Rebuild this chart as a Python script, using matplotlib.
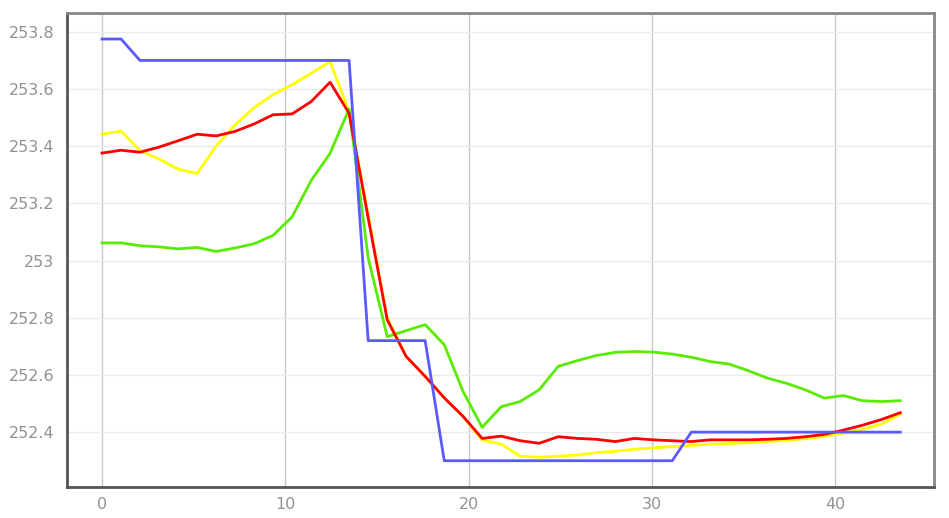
import matplotlib
matplotlib.use("Agg")
import matplotlib.pyplot as plt
from matplotlib.ticker import FuncFormatter

# sample times (43 samples)
t = [0.00, 1.04, 2.07, 3.11, 4.15, 5.19, 6.22, 7.26, 8.30, 9.33,
     10.37, 11.41, 12.44, 13.48, 14.52, 15.56, 16.59, 17.63, 18.67, 19.70,
     20.74, 21.78, 22.81, 23.85, 24.89, 25.93, 26.96, 28.00, 29.04, 30.07,
     31.11, 32.15, 33.18, 34.22, 35.26, 36.30, 37.33, 38.37, 39.41, 40.44,
     41.48, 42.52, 43.55]

blue = [253.775, 253.775] + [253.70] * 12 + [252.72] * 4 + [252.30] * 13 + [252.40] * 12

yellow = [253.442, 253.453, 253.385, 253.355, 253.32, 253.305, 253.40, 253.475, 253.535, 253.58,
          253.615, 253.655, 253.696, 253.52, 253.16, 252.80, 252.665, 252.595, 252.52, 252.455,
          252.372, 252.358, 252.316, 252.312, 252.316, 252.32, 252.328, 252.333, 252.34, 252.345,
          252.349, 252.353, 252.358, 252.36, 252.363, 252.367, 252.371, 252.377, 252.385, 252.396,
          252.41, 252.428, 252.463]

red = [253.376, 253.386, 253.379, 253.397, 253.419, 253.442, 253.436, 253.452, 253.478, 253.51,
       253.513, 253.556, 253.624, 253.515, 253.15, 252.793, 252.665, 252.595, 252.52, 252.455,
       252.378, 252.386, 252.37, 252.361, 252.384, 252.378, 252.375, 252.367, 252.378, 252.373,
       252.37, 252.367, 252.373, 252.373, 252.373, 252.375, 252.378, 252.384, 252.392, 252.407,
       252.424, 252.444, 252.468]

green = [253.062, 253.062, 253.052, 253.048, 253.041, 253.046, 253.032, 253.044, 253.059, 253.088,
         253.153, 253.28, 253.375, 253.53, 253.01, 252.734, 252.755, 252.776, 252.706, 252.542,
         252.417, 252.489, 252.507, 252.548, 252.63, 252.65, 252.668, 252.679, 252.682, 252.68,
         252.673, 252.662, 252.647, 252.638, 252.615, 252.589, 252.571, 252.548, 252.519, 252.528,
         252.51, 252.507, 252.51]

fig = plt.figure(figsize=(9.49, 5.18), dpi=100)
ax = fig.add_axes([0.0706, 0.0598, 0.9136, 0.9151])

# draw order: yellow under, blue on top
ax.plot(t, yellow, color='#ffff00', lw=2.0, zorder=3)
ax.plot(t, green, color='#5aec00', lw=2.0, zorder=4)
ax.plot(t, red, color='#ff0000', lw=2.0, zorder=5)
ax.plot(t, blue, color='#5a5aff', lw=2.0, zorder=6)

ax.set_xlim(-1.91, 45.39)
ax.set_ylim(252.208, 253.866)
ax.set_xticks([0, 10, 20, 30, 40])
ax.set_yticks([252.4, 252.6, 252.8, 253.0, 253.2, 253.4, 253.6, 253.8])
ax.yaxis.set_major_formatter(FuncFormatter(lambda v, p: f'{v:g}'))

# grid: darker vertical lines, faint horizontal ones
ax.xaxis.grid(True, color='#c8c8c8', lw=1.0, zorder=1)
ax.yaxis.grid(True, color='#ebebeb', lw=1.0, zorder=1)
ax.set_axisbelow(True)

ax.tick_params(length=0, labelsize=11.5, labelcolor='#929292')
ax.tick_params(axis='y', pad=9)
ax.tick_params(axis='x', pad=7)

for side in ['left', 'bottom']:
    ax.spines[side].set_color('#555555')
    ax.spines[side].set_linewidth(2.0)
for side in ['top', 'right']:
    ax.spines[side].set_color('#888888')
    ax.spines[side].set_linewidth(2.0)

plt.savefig('out.png', dpi=100)
